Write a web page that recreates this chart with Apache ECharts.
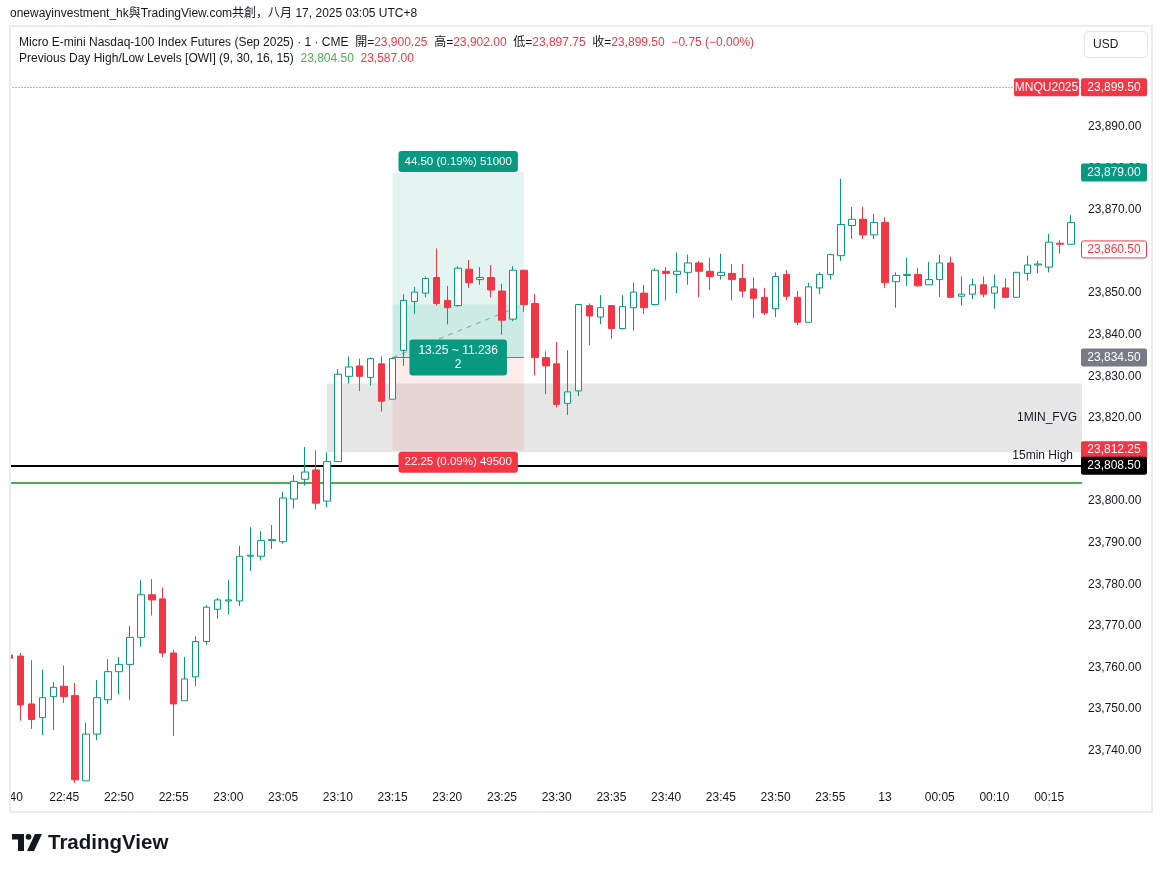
<!DOCTYPE html>
<html><head><meta charset="utf-8">
<script src="https://cdn.jsdelivr.net/npm/echarts@6/dist/echarts.min.js"></script>
<style>html,body{margin:0;padding:0;background:#fff}#c{width:1162px;height:872px}</style>
</head><body><div id="c"></div>
<script>
// ---------- DATA ----------
const times = ['22:40','22:41','22:42','22:43','22:44','22:45','22:46','22:47','22:48','22:49',
'22:50','22:51','22:52','22:53','22:54','22:55','22:56','22:57','22:58','22:59',
'23:00','23:01','23:02','23:03','23:04','23:05','23:06','23:07','23:08','23:09',
'23:10','23:11','23:12','23:13','23:14','23:15','23:16','23:17','23:18','23:19',
'23:20','23:21','23:22','23:23','23:24','23:25','23:26','23:27','23:28','23:29',
'23:30','23:31','23:32','23:33','23:34','23:35','23:36','23:37','23:38','23:39',
'23:40','23:41','23:42','23:43','23:44','23:45','23:46','23:47','23:48','23:49',
'23:50','23:51','23:52','23:53','23:54','23:55','23:56','23:57','23:58','23:59',
'00:00','00:01','00:02','00:03','00:04','00:05','00:06','00:07','00:08','00:09',
'00:10','00:11','00:12','00:13','00:14','00:15','00:16','00:17','00:18'];
const xTickLabels = ['40','22:45','22:50','22:55','23:00','23:05','23:10','23:15','23:20','23:25',
'23:30','23:35','23:40','23:45','23:50','23:55','13','00:05','00:10','00:15'];

const opens = [23763.00,23762.75,23751.25,23748.00,23753.00,23755.50,23753.25,23732.75,23744.00,23752.25,
23759.00,23760.75,23767.25,23777.50,23776.50,23763.50,23752.00,23757.75,23766.25,23774.00,
23776.00,23776.00,23786.75,23786.75,23790.50,23790.25,23800.50,23805.25,23807.50,23800.00,
23809.50,23830.00,23832.50,23829.75,23833.00,23824.50,23836.25,23848.00,23850.00,23853.75,
23848.25,23847.00,23855.75,23853.25,23853.75,23850.50,23843.75,23855.50,23847.50,23834.50,
23833.00,23823.50,23826.50,23847.00,23844.25,23847.00,23841.50,23846.50,23850.00,23847.25,
23855.25,23854.50,23855.00,23857.25,23855.25,23854.25,23854.75,23853.50,23851.00,23849.00,
23846.25,23854.50,23849.00,23843.00,23851.25,23854.50,23859.00,23866.25,23867.75,23864.00,
23867.00,23852.75,23854.25,23854.50,23852.00,23853.25,23857.25,23849.25,23849.75,23852.00,
23850.00,23851.25,23849.00,23854.75,23856.75,23856.25,23862.00,23861.75];
const closes = [23762.25,23751.00,23747.50,23752.75,23755.25,23753.00,23733.00,23744.00,23752.75,23759.00,
23760.75,23767.25,23777.50,23776.25,23763.50,23751.25,23757.25,23766.25,23774.50,23776.25,
23776.25,23786.75,23787.00,23790.50,23790.75,23800.75,23804.75,23807.00,23799.50,23809.50,
23830.50,23832.25,23830.00,23834.25,23824.00,23834.25,23848.25,23850.25,23853.50,23847.50,
23846.50,23856.00,23852.50,23853.75,23850.75,23843.50,23855.50,23847.25,23834.50,23832.50,
23823.25,23826.25,23847.25,23844.50,23846.50,23841.50,23846.75,23850.25,23846.50,23855.50,
23854.75,23855.25,23857.25,23855.25,23854.00,23855.00,23853.25,23850.50,23848.75,23845.25,
23854.00,23849.25,23843.00,23851.50,23854.50,23859.25,23866.50,23867.75,23864.00,23867.00,
23852.50,23854.25,23854.50,23851.75,23853.25,23857.25,23849.00,23849.75,23852.00,23849.75,
23851.50,23849.00,23855.00,23856.75,23857.00,23862.25,23861.75,23867.00];
const lows = [23761.00,23747.25,23745.25,23743.75,23745.00,23751.50,23732.25,23732.75,23742.50,23751.25,
23753.50,23752.25,23765.00,23772.50,23762.50,23743.50,23752.00,23755.50,23765.50,23771.75,
23772.75,23774.75,23783.25,23785.75,23788.50,23789.75,23798.25,23803.75,23798.00,23798.50,
23809.50,23828.25,23826.50,23827.75,23821.50,23824.50,23832.50,23845.00,23849.00,23847.00,
23842.50,23846.75,23851.25,23852.00,23849.00,23840.00,23843.25,23845.50,23830.25,23825.75,
23822.50,23820.75,23825.25,23837.50,23842.50,23839.00,23841.25,23841.00,23845.00,23847.00,
23848.25,23850.00,23852.00,23849.00,23850.75,23853.25,23848.25,23849.00,23844.00,23844.75,
23844.25,23848.25,23842.25,23843.00,23849.75,23853.25,23857.75,23863.00,23863.00,23863.00,
23851.25,23846.50,23851.75,23851.50,23852.00,23849.00,23849.00,23847.00,23848.50,23849.00,
23846.25,23848.75,23849.00,23853.00,23854.75,23855.00,23859.50,23861.75];
const highs = [23764.00,23763.50,23761.75,23759.50,23756.50,23760.50,23756.25,23746.75,23757.00,23762.00,
23762.50,23770.00,23781.00,23781.25,23779.25,23764.25,23762.50,23767.50,23775.00,23776.75,
23781.00,23789.25,23793.75,23792.75,23794.25,23802.25,23806.25,23813.00,23812.25,23811.75,
23831.75,23834.75,23834.25,23834.50,23834.75,23834.50,23849.75,23851.50,23854.00,23860.75,
23851.75,23856.50,23858.00,23856.25,23856.75,23852.25,23856.50,23855.50,23849.75,23836.00,
23838.25,23836.25,23847.25,23847.50,23849.50,23847.00,23849.50,23852.50,23852.00,23856.00,
23856.25,23859.75,23859.25,23857.75,23858.50,23859.50,23857.00,23857.00,23853.75,23851.25,
23855.00,23855.50,23850.50,23852.50,23855.00,23859.25,23877.50,23870.75,23870.75,23869.00,
23868.25,23855.00,23858.50,23856.00,23857.50,23859.25,23858.75,23854.00,23853.50,23854.00,
23854.50,23853.50,23855.00,23859.00,23857.75,23864.25,23862.75,23868.75];

// levels
const prevDayHigh = 23804.50;
const prevDayLow = 23587.00;
const fifteenMinHigh = 23808.50;
const lastPrice = 23899.50;
const fvgTop = 23828.25, fvgBottom = 23811.75, fvgStart = '23:09', paneEnd = '00:18';
// long position tool
const posStart = '23:15', posEnd = '23:27', posMid = '23:21';
const posEntry = 23834.50, posTarget = 23879.00, posStop = 23812.25, posNow = 23847.25;
const posTexts = ['44.50 (0.19%) 51000', '13.25 ~ 11.236\n2', '22.25 (0.09%) 49500'];
// right-axis price tags
const axisTagValues = [23899.50, 23879.00, 23860.50, 23834.50, 23812.25, 23808.50];
const symbolName = 'MNQU2025';
// legend
const legendOHLC = ['23,900.25','23,902.00','23,897.75','23,899.50'];
const legendChange = '−0.75 (−0.00%)';
const indicatorName = 'Previous Day High/Low Levels [OWI] (9, 30, 16, 15)';

// ---------- STYLE ----------
const FONT = '"Liberation Sans", Arial, "Noto Sans CJK SC", sans-serif';
const GREEN = '#089981', RED = '#F23645', TXT = '#131722';
const tagStyles = [
  {bg:RED, fg:'#fff', stroke:null},
  {bg:GREEN, fg:'#fff', stroke:null},
  {bg:'#fff', fg:RED, stroke:RED},
  {bg:'#787b86', fg:'#fff', stroke:null},
  {bg:RED, fg:'#fff', stroke:null},
  {bg:'#000', fg:'#fff', stroke:null}
];
const fmt = v => v.toLocaleString('en-US', {minimumFractionDigits:2, maximumFractionDigits:2});

const chart = echarts.init(document.getElementById('c'));
const ohlc = opens.map((o, i) => [o, closes[i], lows[i], highs[i]]);
const catData = times.map((t, i) => i === 0 ? {value: t, textStyle: {align: 'left'}} : t);

const labelBox = (bg) => ({show:true, color:'#fff', backgroundColor:bg, fontFamily:FONT, fontSize:11.5,
  padding:[4,6], borderRadius:3, lineHeight:13});

chart.setOption({
  animation: false,
  backgroundColor: '#ffffff',
  grid: {left: 9.5, right: 80, top: 85.12, height: 707.2},
  xAxis: {
    type: 'category', data: catData, boundaryGap: false, offset: -6,
    axisLine: {show: false}, axisTick: {show: false}, splitLine: {show: false},
    axisLabel: {interval: (i) => i % 5 === 0, formatter: (v, i) => xTickLabels[i / 5] || '',
      color: TXT, fontSize: 12, fontFamily: FONT, margin: 5}
  },
  yAxis: {
    type: 'value', position: 'right', min: 23730, max: 23900, interval: 10,
    axisLine: {show: false}, axisTick: {show: false}, splitLine: {show: false},
    axisLabel: {margin: 6, color: TXT, fontSize: 12, fontFamily: FONT,
      formatter: v => (v <= 23730 || v >= 23900) ? '' : fmt(v)}
  },
  series: [
    {
      type: 'line', data: [], z: 1, silent: true,
      markArea: {
        silent: true,
        data: [
          [{xAxis: fvgStart, yAxis: fvgTop, itemStyle: {color: 'rgba(128,128,128,0.2)'},
            label: {show: true, position: 'insideRight', formatter: '1MIN_FVG', color: TXT, fontSize: 12, fontFamily: FONT, distance: 5}},
           {xAxis: paneEnd, yAxis: fvgBottom}],
          [{xAxis: posStart, yAxis: posTarget, itemStyle: {color: 'rgba(8,153,129,0.11)'}, label: {show: false}},
           {xAxis: posEnd, yAxis: posEntry}],
          [{xAxis: posStart, yAxis: posNow, itemStyle: {color: 'rgba(8,153,129,0.1)'}, label: {show: false}},
           {xAxis: posEnd, yAxis: posEntry}],
          [{xAxis: posStart, yAxis: posEntry, itemStyle: {color: 'rgba(242,54,69,0.1)'}, label: {show: false}},
           {xAxis: posEnd, yAxis: posStop}]
        ]
      },
      markLine: {
        silent: true, symbol: ['none', 'none'], animation: false,
        data: [
          {yAxis: prevDayHigh, lineStyle: {color: '#4caf50', width: 2, type: 'solid'}, label: {show: false}},
          {yAxis: fifteenMinHigh, lineStyle: {color: '#000000', width: 2, type: 'solid'},
            label: {show: true, position: 'insideEndTop', formatter: '15min High', color: TXT, fontSize: 12, fontFamily: FONT, distance: [9, 4]}},
          {yAxis: lastPrice, lineStyle: {color: RED, width: 1, type: [1, 2]}, label: {show: false}},
          [{coord: [posStart, posEntry], lineStyle: {color: '#787b86', width: 1, type: 'solid'}, label: {show: false}},
           {coord: [posEnd, posEntry]}],
          [{coord: [posStart, posEntry], lineStyle: {color: '#9598a1', width: 1, type: [5, 5]}, label: {show: false}},
           {coord: [posEnd, posNow]}]
        ]
      }
    },
    {
      type: 'candlestick', z: 5, data: ohlc, barWidth: 7, clip: true,
      itemStyle: {color: '#ffffff', color0: RED, borderColor: GREEN, borderColor0: RED, borderWidth: 1}
    },
    {
      type: 'line', data: [], z: 10, silent: true,
      markPoint: {
        silent: true, symbol: 'rect', symbolSize: 1, itemStyle: {color: 'rgba(0,0,0,0)'},
        data: [
          {coord: [posMid, posTarget], label: Object.assign(labelBox(GREEN), {position: 'top', distance: 0, formatter: posTexts[0]})},
          {coord: [posMid, posEntry], label: Object.assign(labelBox(GREEN), {position: 'inside', formatter: posTexts[1], padding: [4, 9], fontSize: 12, lineHeight: 14})},
          {coord: [posMid, posStop], label: Object.assign(labelBox(RED), {position: 'bottom', distance: 1, formatter: posTexts[2]})}
        ]
      }
    }
  ]
});

// ---------- decorations & axis tags ----------
const g = [];
// white mask left of the pane so the clipped first bar stays inside the frame
g.push({type: 'rect', shape: {x: 0, y: 70, width: 10, height: 740}, style: {fill: '#fff'}, z: 40, silent: true});
g.push({type: 'rect', shape: {x: 10, y: 26, width: 1142, height: 786}, style: {fill: 'none', stroke: '#e9ecf1', lineWidth: 2}, z: 41, silent: true});
g.push({type: 'text', x: 10, y: 14, style: {text: 'onewayinvestment_hk與TradingView.com共創，八月 17, 2025 03:05 UTC+8',
  fill: TXT, font: '12px ' + FONT, verticalAlign: 'middle'}, z: 50});
g.push({type: 'text', x: 19, y: 42.5, z: 50, style: {
  text: '{n|Micro E-mini Nasdaq-100 Index Futures (Sep 2025) · 1 · CME  開=}{r|' + legendOHLC[0] + '}{n|  高=}{r|' + legendOHLC[1] +
        '}{n|  低=}{r|' + legendOHLC[2] + '}{n|  收=}{r|' + legendOHLC[3] + '}{r|  ' + legendChange + '}',
  verticalAlign: 'middle',
  rich: {n: {fill: TXT, font: '12px ' + FONT}, r: {fill: RED, font: '12px ' + FONT}}}});
g.push({type: 'text', x: 19, y: 59, z: 50, style: {
  text: '{n|' + indicatorName + '  }{g|' + fmt(prevDayHigh) + '}{n|  }{r|' + fmt(prevDayLow) + '}',
  verticalAlign: 'middle',
  rich: {n: {fill: TXT, font: '12px ' + FONT}, g: {fill: '#4caf50', font: '12px ' + FONT}, r: {fill: RED, font: '12px ' + FONT}}}});
// USD button
g.push({type: 'rect', shape: {x: 1084.5, y: 31.5, width: 63, height: 26, r: 4}, style: {fill: '#fff', stroke: '#e0e3eb', lineWidth: 1}, z: 50});
g.push({type: 'text', x: 1093, y: 44.5, style: {text: 'USD', fill: TXT, font: '12px ' + FONT, verticalAlign: 'middle'}, z: 51});

// price tags on the axis
axisTagValues.forEach((v, i) => {
  const y = chart.convertToPixel({yAxisIndex: 0}, v);
  const s = tagStyles[i];
  g.push({type: 'rect', shape: {x: s.stroke ? 1081.5 : 1081, y: y - 9 + (s.stroke ? 0.5 : 0), width: s.stroke ? 65 : 66, height: s.stroke ? 17 : 18, r: 2},
    style: {fill: s.bg, stroke: s.stroke || null, lineWidth: 1}, z: 60});
  g.push({type: 'text', x: 1114, y: y, style: {text: fmt(v), fill: s.fg, font: '12px ' + FONT, align: 'center', verticalAlign: 'middle'}, z: 61});
});
// symbol tag next to last price
{
  const y = chart.convertToPixel({yAxisIndex: 0}, lastPrice);
  g.push({type: 'rect', shape: {x: 1014, y: y - 9, width: 65, height: 18, r: 2}, style: {fill: RED}, z: 60});
  g.push({type: 'text', x: 1046.5, y: y, style: {text: symbolName, fill: '#fff', font: '12px ' + FONT, align: 'center', verticalAlign: 'middle'}, z: 61});
}
// TradingView logo
g.push({type: 'rect', shape: {x: 12, y: 834, width: 12, height: 5.5}, style: {fill: TXT}, z: 50});
g.push({type: 'rect', shape: {x: 18, y: 834, width: 6, height: 17}, style: {fill: TXT}, z: 50});
g.push({type: 'circle', shape: {cx: 28.5, cy: 836.8, r: 2.9}, style: {fill: TXT}, z: 50});
g.push({type: 'polygon', shape: {points: [[35, 834], [42, 834], [34, 851], [27, 851]]}, style: {fill: TXT}, z: 50});
g.push({type: 'text', x: 48, y: 843, style: {text: 'TradingView', fill: TXT, font: 'bold 20.5px ' + FONT, verticalAlign: 'middle'}, z: 50});

chart.setOption({graphic: g});
</script>
</body></html>
